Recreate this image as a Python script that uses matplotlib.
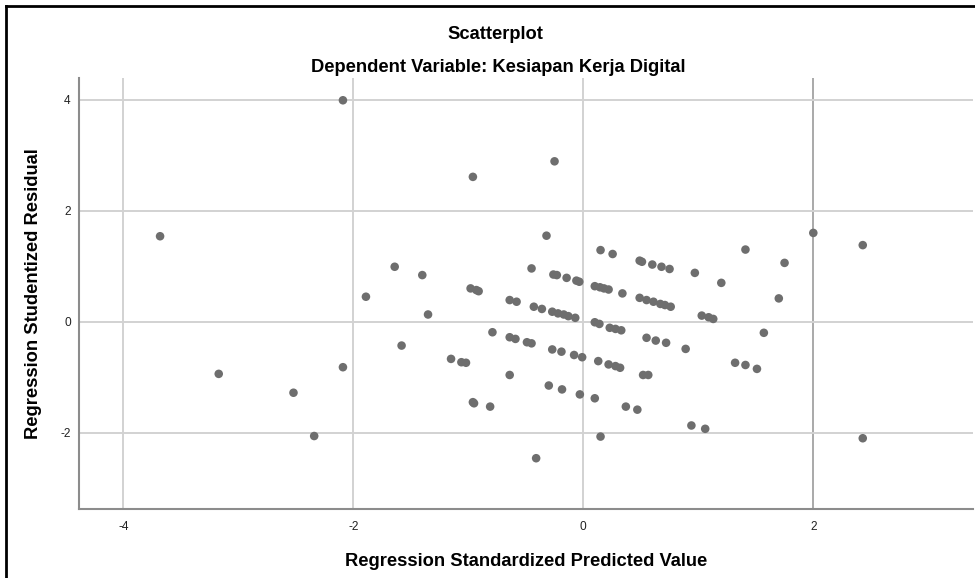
import matplotlib
matplotlib.use("Agg")
import matplotlib.pyplot as plt
from matplotlib.lines import Line2D

plt.rcParams['font.family'] = ['Liberation Sans', 'DejaVu Sans']
plt.rcParams['axes.unicode_minus'] = False

title = "Scatterplot"
subtitle = "Dependent Variable: Kesiapan Kerja Digital"
x_label = "Regression Standardized Predicted Value"
y_label = "Regression Studentized Residual"
x_ticks = [-4, -2, 0, 2]
y_ticks = [-2, 0, 2, 4]

pred = [-3.68, -3.17, -2.52, -2.34, -2.09, -2.09, -1.89, -1.64, -1.58, -1.40,
        -1.35, -1.15, -1.06, -1.02, -0.98, -0.93, -0.91, -0.96, -0.95, -0.96,
        -0.81, -0.79, -0.64, -0.58, -0.64, -0.59, -0.64, -0.45, -0.49, -0.45,
        -0.43, -0.36, -0.41, -0.32, -0.30, -0.27, -0.22, -0.17, -0.13, -0.07,
        -0.26, -0.23, -0.145, -0.06, -0.035, -0.25, -0.27, -0.19, -0.08, -0.01,
        -0.185, -0.03, 0.10, 0.10, 0.145, 0.18, 0.22, 0.34, 0.10, 0.14,
        0.23, 0.28, 0.33, 0.13, 0.22, 0.28, 0.32, 0.15, 0.255, 0.15,
        0.37, 0.47, 0.49, 0.51, 0.60, 0.68, 0.75, 0.49, 0.55, 0.61,
        0.67, 0.71, 0.76, 0.52, 0.565, 0.55, 0.63, 0.72, 0.89, 0.94,
        1.06, 0.97, 1.03, 1.09, 1.13, 1.20, 1.32, 1.41, 1.51, 1.41,
        1.57, 1.70, 1.75, 2.00, 2.43, 2.43]
resid = [1.54, -0.94, -1.28, -2.06, 3.99, -0.82, 0.45, 0.99, -0.43, 0.84,
         0.13, -0.67, -0.73, -0.74, 0.60, 0.57, 0.55, -1.45, -1.47, 2.61,
         -1.53, -0.19, 0.39, 0.36, -0.28, -0.31, -0.96, 0.96, -0.37, -0.39,
         0.27, 0.23, -2.46, 1.55, -1.15, 0.18, 0.15, 0.13, 0.10, 0.07,
         0.85, 0.84, 0.79, 0.74, 0.72, 2.89, -0.50, -0.54, -0.60, -0.64,
         -1.22, -1.31, -1.38, 0.64, 0.62, 0.60, 0.58, 0.51, -0.01, -0.04,
         -0.11, -0.13, -0.155, -0.71, -0.77, -0.80, -0.83, 1.29, 1.22, -2.07,
         -1.53, -1.585, 1.10, 1.08, 1.03, 0.99, 0.95, 0.43, 0.39, 0.36,
         0.32, 0.30, 0.27, -0.96, -0.96, -0.29, -0.34, -0.38, -0.49, -1.87,
         -1.93, 0.88, 0.11, 0.08, 0.05, 0.70, -0.74, -0.78, -0.85, 1.30,
         -0.20, 0.42, 1.06, 1.60, 1.38, -2.10]

W, H = 975, 578
fig = plt.figure(figsize=(W / 100, H / 100), dpi=100)
ax = fig.add_axes([79 / W, 1 - 509 / H, (972.7 - 79) / W, (509 - 78.3) / H])

ax.set_xlim(-4.385, 3.386)
ax.set_ylim(-3.375, 4.386)

# grid lines
for xv in x_ticks:
    ax.axvline(xv, color='#a9a9a9' if xv == 2 else '#d2d2d2', lw=1.4, zorder=1)
for yv in y_ticks:
    ax.axhline(yv, color='#d2d2d2', lw=1.4, zorder=1)

ax.scatter(pred, resid, s=38, color='#6e6e6e', edgecolors='none', zorder=3)

for side in ['top', 'right']:
    ax.spines[side].set_visible(False)
for side in ['left', 'bottom']:
    ax.spines[side].set_color('#8c8c8c')
    ax.spines[side].set_linewidth(1.5)

ax.set_xticks(x_ticks)
ax.set_yticks(y_ticks)
ax.tick_params(axis='both', length=0, labelsize=8.6, colors='#222222')
ax.tick_params(axis='x', pad=9)
ax.tick_params(axis='y', pad=6)

ax.set_xlabel(x_label, fontsize=13.2, fontweight='bold', labelpad=14)
ax.set_ylabel(y_label, fontsize=13.2, fontweight='bold', labelpad=13)

fig.text(495 / W, 1 - 39.3 / H, title, ha='center', va='baseline',
         fontsize=13.2, fontweight='bold')
fig.text(498 / W, 1 - 71.7 / H, subtitle, ha='center', va='baseline',
         fontsize=13.2, fontweight='bold')

# outer frame (top and left edges visible)
fig.add_artist(Line2D([6 / W, 1.0], [1 - 6 / H, 1 - 6 / H], color='black', lw=2,
                      transform=fig.transFigure))
fig.add_artist(Line2D([6 / W, 6 / W], [0.0, 1 - 6 / H], color='black', lw=2,
                      transform=fig.transFigure))

fig.savefig('out.png', dpi=100)
